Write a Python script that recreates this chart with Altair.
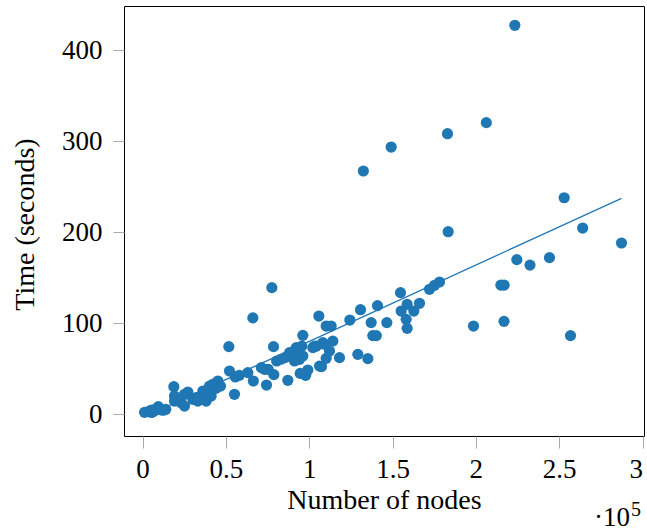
import altair as alt
import pandas as pd

# Scatter data: number of nodes vs. time (seconds)
nodes = [
    1200, 3600, 5000, 5500, 6500, 7000, 8500, 9500, 11000, 12500, 14000,
    18800, 19200, 19200, 23200, 25200, 25200, 27200, 30200, 32200, 33200,
    36200, 36200, 38200, 39200, 40200, 41200, 42200, 44000, 45200, 46800,
    51800, 52200, 55200, 55700, 58100, 63200, 66500, 66200,
    71300, 73200, 74400, 75400, 77600, 78800, 78600, 80500, 83000, 85500,
    87200, 88200, 89200, 90600, 91200, 92200, 93600, 94200, 94600, 95600,
    96200, 96200, 97900, 99200,
    102200, 103200, 104400, 105800, 106200, 107400, 108200, 109200, 110200,
    110200, 112200, 113200, 114200, 118200, 124400, 129200, 130800, 132500,
    135200, 137200, 138200, 140300, 141000, 146600, 149200,
    154800, 155200, 158200, 158800, 158800, 162800, 166200, 172200, 175200,
    178200, 183000, 183400,
    198600, 206300, 215000, 217000, 216900, 223400, 224600, 232500, 244200,
    253000, 256800, 264100, 287400,
]
seconds = [
    2.2, 3.0, 4.5, 2.0, 5.0, 3.5, 6.0, 8.5, 5.0, 4.5, 5.5,
    30.4, 20.1, 14.6, 12.8, 22.0, 9.1, 24.5, 16.5, 18.3, 14.6,
    22.0, 25.6, 14.6, 27.5, 31.0, 20.1, 33.0, 28.6, 36.6, 31.0,
    74.4, 47.6, 22.0, 41.0, 42.9, 45.8, 36.6, 106.0,
    51.3, 49.5, 32.2, 49.5, 139.2, 43.6, 74.4, 58.6, 60.5, 62.3,
    37.4, 67.8, 65.9, 63.0, 58.6, 73.3, 69.6, 60.4, 45.0, 75.0,
    64.1, 86.8, 42.9, 48.7,
    73.3, 75.0, 75.0, 108.0, 53.0, 52.4, 78.8, 77.0, 97.0,
    61.5, 69.6, 97.0, 80.5, 62.3, 103.6, 65.9, 115.0, 267.4,
    61.2, 100.8, 86.5, 86.5, 119.5, 100.8, 293.7,
    133.7, 113.5, 104.4, 120.9, 94.5, 113.5, 122.0, 137.4, 141.8,
    145.4, 308.4, 200.7,
    97.0, 320.5, 142.0, 142.0, 102.2, 427.5, 170.0, 164.0, 172.2,
    238.0, 86.5, 204.7, 188.3,
]

# Fitted trend line endpoints
line_nodes = [1200, 287400]
line_seconds = [-2.8, 237.4]

x_ticks = [0, 50000, 100000, 150000, 200000, 250000, 300000]
y_ticks = [0, 100, 200, 300, 400]

BLUE = "#1f77b4"
FONT = "Liberation Serif"

pts = pd.DataFrame({"nodes": nodes, "seconds": seconds})
fit = pd.DataFrame({"nodes": line_nodes, "seconds": line_seconds})

x_scale = alt.Scale(domain=[-11100, 300900], nice=False, zero=False)
y_scale = alt.Scale(domain=[-23.8, 448.7], nice=False, zero=False)

x_axis = alt.Axis(
    values=x_ticks, labelExpr="'' + datum.value / 100000",
    title="Number of nodes", grid=False, domain=False,
    tickSize=12, tickColor="#aaaaaa", tickWidth=1,
    labelFont=FONT, labelFontSize=27, labelColor="black", labelPadding=8,
    labelAlign={"condition": {"test": "datum.value >= 300000", "value": "right"},
                "value": "center"},
    labelFlush=False, labelOverlap=False,
    titleFont=FONT, titleFontSize=28, titleFontWeight="normal", titleColor="black",
    titleBaseline="alphabetic", titleY=72,
)
y_axis = alt.Axis(
    values=y_ticks, title="Time (seconds)", grid=False, domain=False,
    tickSize=11, tickColor="#aaaaaa", tickWidth=1,
    labelFont=FONT, labelFontSize=27, labelColor="black", labelPadding=11,
    labelFlush=False, labelOverlap=False,
    titleFont=FONT, titleFontSize=28, titleFontWeight="normal", titleColor="black",
    titleBaseline="alphabetic", titleX=-91, titleY=218, titleAngle=270,
)

points = alt.Chart(pts).mark_circle(size=125, color=BLUE, opacity=1).encode(
    x=alt.X("nodes:Q", scale=x_scale, axis=x_axis),
    y=alt.Y("seconds:Q", scale=y_scale, axis=y_axis),
)

line = alt.Chart(fit).mark_line(color=BLUE, strokeWidth=1.3).encode(
    x=alt.X("nodes:Q", scale=x_scale),
    y=alt.Y("seconds:Q", scale=y_scale),
)

sci = alt.Chart(pd.DataFrame({"t": ["·10"]})).mark_text(
    font=FONT, fontSize=27, color="black", align="right", baseline="alphabetic"
).encode(text="t:N", x=alt.value(506), y=alt.value(520))

sup = alt.Chart(pd.DataFrame({"t": ["5"]})).mark_text(
    font=FONT, fontSize=20, color="black", align="left", baseline="alphabetic"
).encode(text="t:N", x=alt.value(507), y=alt.value(510))

chart = alt.layer(points, line, sci, sup).properties(
    width=520, height=430,
    autosize=alt.AutoSizeParams(type="none"),
    padding={"left": 124, "top": 6, "right": 3, "bottom": 96},
    background="white",
).configure_view(stroke="black", strokeWidth=1)

chart.save("out.html", embed_options={"renderer": "svg", "actions": False})
